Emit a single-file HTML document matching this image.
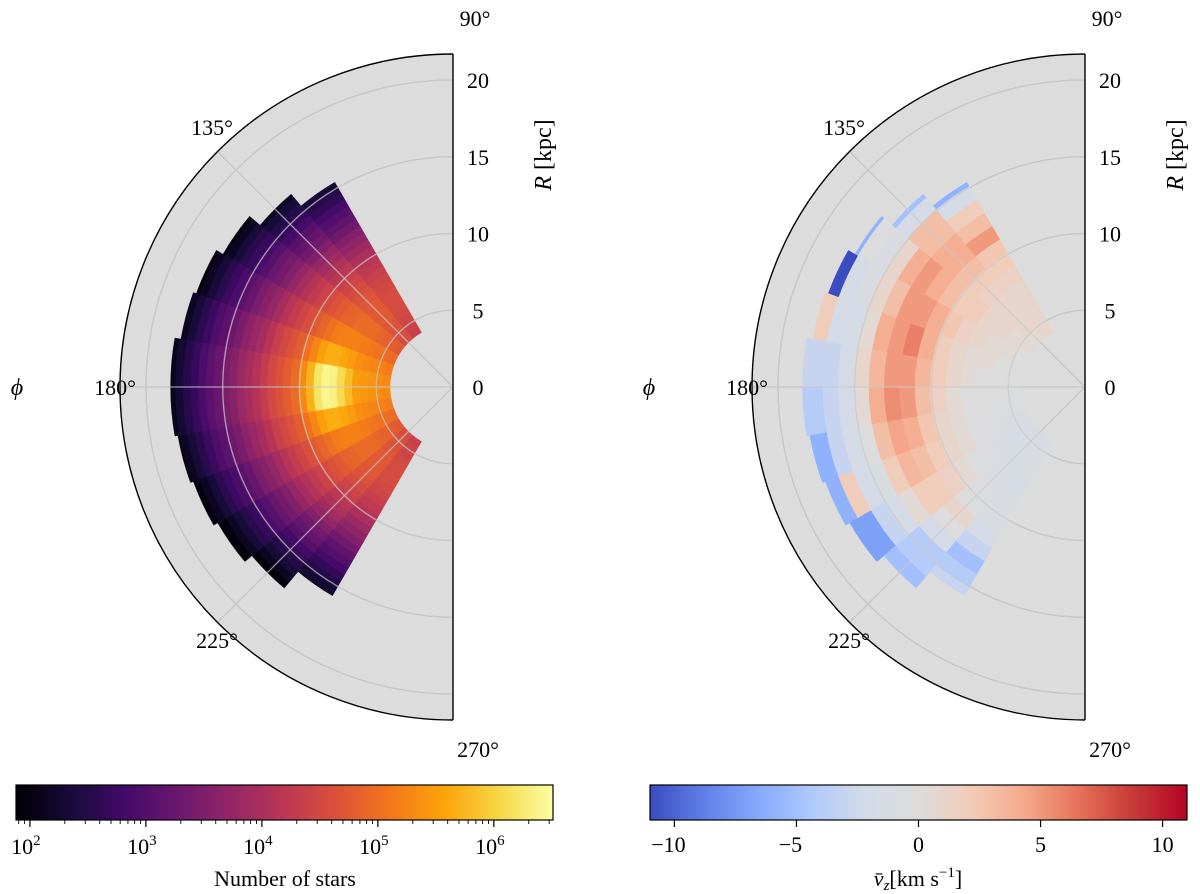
<!DOCTYPE html>
<html><head><meta charset="utf-8">
<style>
html,body{margin:0;padding:0;background:#fff;}
svg{display:block;font-family:"Liberation Serif",serif;}
</style></head>
<body>
<svg id="fig" width="1200" height="894" viewBox="0 0 1200 894"></svg>
<script>
// ---- data ----
const phiEdges = [120,130,140,150,160,170,180,190,200,210,220,230,240];
const outerR = [15.4,16.4,17.3,17.8,18.0,18.4,18.4,18.2,18.0,17.7,17.1,15.7];
const innerR = 4.1;
// log10(count): base radial profile (0.5 kpc bins from innerR), central spike, per-phi offsets
const rStepN = 0.5;
const logNProfile = [5.3,5.35,5.4,5.45,5.5,5.5,5.5,5.45,5.4,5.3,5.2,5.1,4.95,4.8,4.65,4.5,4.3,4.1,3.95,3.8,3.6,3.45,3.25,3.1,2.9,2.7,2.5,2.3,2.1,1.95];
const logNSpike = [0,0,0,0,0,0.3,0.6,0.9,1.0,0.9,0.5,0.2,0,0,0,0,0,0,0,0,0,0,0,0,0,0,0,0,0,0];
const logNSpikeByPhi = [0,0,0,0.1,0.4,1,1,0.4,0.1,0,0,0];
const logNPhiOffset = [-0.95,-0.75,-0.55,-0.35,-0.15,0,0,-0.15,-0.35,-0.55,-0.75,-0.95];
// mean vz (km/s), rows = phi bins, cols = R bins of 1 kpc from innerR
const rStepV = 1.0;
const vz = [
 [1,1,1,1,1.5,2,2.5,5,3,2,-2,-6,0,0,0],
 [0.5,1,1,1,1.5,2,3,4,4,3,3,-2,-5,0,0],
 [0.5,0.5,1,1,2,2,3,4,5,4,1,-1,0,-6,0],
 [0,0.5,0.5,1,1.5,2.5,4,5,5,3,1,-1,-2,-11,0],
 [0,0,0.5,0.5,1,2,4,6,5,4,0.5,-2,-2,2,0],
 [0,0,0,0.5,1,2,3.5,5,5,3.5,1,-2,-3,-3,-3],
 [-0.5,0,0,0,0.5,1.5,3,5,5.5,4,0.5,-2,-3,-4,-4],
 [-0.5,-0.5,0,0,0.5,1,2.5,4,4.5,3,0,-2,-3,-6,-6],
 [-1,-1,-0.5,0,0.5,1,2,3,3.5,2,-1,-2,2,-6,0],
 [-1,-1.5,-1,-0.5,0,0.5,1.5,2,2,0.5,-2,-3,-7,-7,0],
 [-1,-1,-1.5,-1,-1,-0.5,0,1,0,-2,-4,-4,-5,0,0],
 [-1,-1,-1,-1.5,-1,-1,-1,-2,-3,-5,-4,-3,0,0,0]
];
const rTicks = [0,5,10,15,20];
const angTicks = [90,135,180,225,270];
const cbLeftTicks = [2,3,4,5,6];
const cbRightTicks = [-10,-5,0,5,10];
const logNMin = 1.88, logNMax = 6.51;
const vMin = -11, vMax = 11;

// ---- helpers ----
const NS = "http://www.w3.org/2000/svg";
const svg = document.getElementById('fig');
function el(tag, attrs, parent){const e=document.createElementNS(NS,tag);for(const k in attrs)e.setAttribute(k,attrs[k]);(parent||svg).appendChild(e);return e;}
const SCALE = 15.35, RMAX = 333, CY = 387;
function pt(cx,r,a){const t=a*Math.PI/180;return [cx+r*Math.cos(t), CY-r*Math.sin(t)];}
function sector(cx,r0,r1,a0,a1){
  const R0=r0*SCALE,R1=r1*SCALE;
  const p1=pt(cx,R0,a0),p2=pt(cx,R1,a0),p3=pt(cx,R1,a1),p4=pt(cx,R0,a1);
  return `M${p1[0]},${p1[1]}L${p2[0]},${p2[1]}A${R1},${R1} 0 0 0 ${p3[0]},${p3[1]}L${p4[0]},${p4[1]}A${R0},${R0} 0 0 1 ${p1[0]},${p1[1]}Z`;
}
function hex2rgb(h){return [parseInt(h.substr(1,2),16),parseInt(h.substr(3,2),16),parseInt(h.substr(5,2),16)];}
function cmap(stops,t){t=Math.max(0,Math.min(1,t));const n=stops.length-1;const i=Math.min(n-1,Math.floor(t*n));const f=t*n-i;const a=hex2rgb(stops[i]),b=hex2rgb(stops[i+1]);return `rgb(${a.map((v,k)=>Math.round(v+(b[k]-v)*f)).join(',')})`;}
const inferno=['#000004','#160b39','#420a68','#6a176e','#932667','#bc3754','#dd513a','#f37819','#fca50a','#f6d746','#fcffa4'];
const coolwarm=['#3b4cc0','#5f7fe8','#85a8fc','#aec9fd','#d3dbe8','#dddcdc','#f2cbb7','#f5a889','#e57058','#c73a36','#b40426'];

function panel(cx, name, cellFn){
  const g=el('g',{});
  const top=pt(cx,RMAX,90),bot=pt(cx,RMAX,270);
  el('path',{d:`M${top[0]},${top[1]}A${RMAX},${RMAX} 0 0 0 ${bot[0]},${bot[1]}Z`,fill:'#dcdcdc',stroke:'none',},g);
  const gg=el('g',{},g);
  rTicks.slice(1).forEach(r=>{const a=pt(cx,r*SCALE,90),b=pt(cx,r*SCALE,270);el('path',{d:`M${a[0]},${a[1]}A${r*SCALE},${r*SCALE} 0 0 0 ${b[0]},${b[1]}`,fill:'none',stroke:'#c2c2c2','stroke-width':1.3},gg);});
  [135,180,225].forEach(a=>{const p=pt(cx,RMAX,a);el('line',{x1:cx,y1:CY,x2:p[0],y2:p[1],stroke:'#c2c2c2','stroke-width':1.3},gg);});
  const dg=el('g',{},g);
  cellFn(dg);
  const ga=el('g',{},g);
  rTicks.slice(1).forEach(r=>{const a=pt(cx,r*SCALE,90),b=pt(cx,r*SCALE,270);el('path',{d:`M${a[0]},${a[1]}A${r*SCALE},${r*SCALE} 0 0 0 ${b[0]},${b[1]}`,fill:'none',stroke:'rgba(200,200,200,0.75)','stroke-width':1.3},ga);});
  [135,180,225].forEach(a=>{const p=pt(cx,RMAX,a);el('line',{x1:cx,y1:CY,x2:p[0],y2:p[1],stroke:'rgba(200,200,200,0.75)','stroke-width':1.3},ga);});
  el('path',{d:`M${top[0]},${top[1]}A${RMAX},${RMAX} 0 0 0 ${bot[0]},${bot[1]}`,fill:'none',stroke:'#000','stroke-width':1.4,},g);
  el('line',{x1:cx,y1:top[1],x2:cx,y2:bot[1],stroke:'#000','stroke-width':1.4,},g);
  rTicks.forEach(r=>{const t=el('text',{x:cx+25,y:CY-r*SCALE+8,'font-size':22,'text-anchor':'middle'},g);t.textContent=r;
    
    });
  const rl=el('text',{x:cx+98,y:155,'font-size':24,'text-anchor':'middle',transform:`rotate(-90 ${cx+98} 155)`},g);
  
  
  rl.innerHTML='<tspan font-style="italic">R</tspan> [kpc]';
  const angPos={90:[cx+22,26],135:[cx-241,135],180:[cx-338,395],225:[cx-236,648],270:[cx+25,757]};
  angTicks.forEach(a=>{const t=el('text',{x:angPos[a][0],y:angPos[a][1],'font-size':22,'text-anchor':'middle'},g);t.textContent=a+'°';
    
    });
  const ph=el('text',{x:cx-436,y:395,'font-size':24,'font-style':'italic','text-anchor':'middle'},g);
  ph.textContent='ϕ';
  
  
}

panel(453,'counts-polar-panel',dg=>{
  for(let i=0;i<phiEdges.length-1;i++){
    for(let j=0;j<logNProfile.length;j++){
      const r0=innerR+j*rStepN; if(r0>=outerR[i])break;
      const r1=Math.min(innerR+(j+1)*rStepN,outerR[i]);
      const v=logNProfile[j]+logNPhiOffset[i]+logNSpike[j]*logNSpikeByPhi[i];
      const c=cmap(inferno,(v-logNMin)/(logNMax-logNMin));
      const p=el('path',{d:sector(453,r0,r1,phiEdges[i],phiEdges[i+1]),fill:c,stroke:c,'stroke-width':0.4},dg);
      
      
    }
  }
});
panel(1085,'vz-polar-panel',dg=>{
  for(let i=0;i<phiEdges.length-1;i++){
    for(let j=0;j<vz[i].length;j++){
      const r0=innerR+j*rStepV; if(r0>=outerR[i])break;
      const r1=Math.min(innerR+(j+1)*rStepV,outerR[i]);
      const c=cmap(coolwarm,(vz[i][j]-vMin)/(vMax-vMin));
      const p=el('path',{d:sector(1085,r0,r1,phiEdges[i],phiEdges[i+1]),fill:c,stroke:c,'stroke-width':0.4},dg);
      
      
    }
  }
});

function colorbar(x0,x1,name,stops,id){
  const g=el('g',{});
  const defs=el('defs',{},g);
  const lg=el('linearGradient',{id:id,x1:0,x2:1,y1:0,y2:0},defs);
  stops.forEach((c,k)=>el('stop',{offset:k/(stops.length-1),'stop-color':c},lg));
  el('rect',{x:x0,y:785,width:x1-x0,height:35,fill:`url(#${id})`,stroke:'#000','stroke-width':1.2},g);
  return g;
}
const cbL=colorbar(16,553,'counts-colorbar',inferno,'gInf');
const lx=v=>16+(v-logNMin)/(logNMax-logNMin)*537;
cbLeftTicks.forEach(d=>{el('line',{x1:lx(d),y1:820,x2:lx(d),y2:827,stroke:'#000','stroke-width':1.2},cbL);
  for(let m=2;m<10;m++){const x=lx(d-1+Math.log10(m));if(x>16)el('line',{x1:x,y1:820,x2:x,y2:824,stroke:'#000','stroke-width':0.9},cbL);}
  const t=el('text',{x:lx(d)-4,y:854,'font-size':22,'text-anchor':'middle'},cbL);
  
  
  t.innerHTML=`10<tspan dy="-9" font-size="15">${d}</tspan>`;});
for(let m=2;m<10;m++){const x=lx(6+Math.log10(m));if(x<553)el('line',{x1:x,y1:820,x2:x,y2:824,stroke:'#000','stroke-width':0.9},cbL);}
const tl=el('text',{x:285,y:886,'font-size':22,'text-anchor':'middle'},cbL);
tl.textContent='Number of stars';



const cbR=colorbar(650,1187,'vz-colorbar',coolwarm,'gCw');
const vx=v=>650+(v-vMin)/(vMax-vMin)*537;
cbRightTicks.forEach(v=>{el('line',{x1:vx(v),y1:820,x2:vx(v),y2:827,stroke:'#000','stroke-width':1.2},cbR);
  const t=el('text',{x:vx(v)-(v<0?6:0),y:852,'font-size':22,'text-anchor':'middle'},cbR);t.textContent=v<0?'−'+(-v):v;
  
  });
const tr=el('text',{x:918,y:886,'font-size':22,'text-anchor':'middle'},cbR);


tr.innerHTML='<tspan font-style="italic">v̄</tspan><tspan font-style="italic" font-size="15" dy="4">z</tspan><tspan dy="-4">[km s</tspan><tspan font-size="15" dy="-9">−1</tspan><tspan dy="9">]</tspan>';
</script>
</body></html>
